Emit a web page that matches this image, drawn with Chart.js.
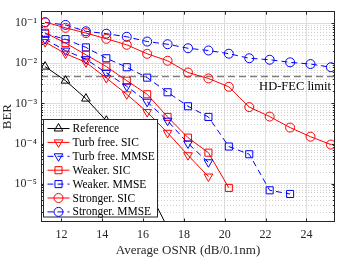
<!DOCTYPE html>
<html>
<head>
<meta charset="utf-8">
<script src="https://cdn.jsdelivr.net/npm/chart.js@4"></script>
<style>
  html, body { margin: 0; padding: 0; background: #fff; }
</style>
</head>
<body>
<canvas id="berChart" width="341" height="260"></canvas>
<script>
// OSNR points (dB/0.1nm) shared by every curve
const osnr = [11.2, 12.2, 13.2, 14.2, 15.2, 16.2, 17.2, 18.2, 19.2, 20.2, 21.2, 22.2, 23.2, 24.2, 25.2];

// BER values
const reference = [8.3e-3, 3.7e-3, 1.32e-3, 3.7e-4, 6.3e-5, 8e-6, 8e-7];
const turbFreeSic = [0.034, 0.0174, 0.0106, 4.3e-3, 1.69e-3, 6.1e-4, 1.85e-4, 5.1e-5, 1.5e-5];
const turbFreeMmse = [0.040, 0.0208, 0.0127, 5.8e-3, 2.67e-3, 1.1e-3, 3.7e-4, 1.0e-4, 3.4e-5];
const weakerSic = [0.058, 0.032, 0.0164, 8.3e-3, 3.7e-3, 1.69e-3, 4.6e-4, 1.4e-4, 5.9e-5, 7.8e-6];
const weakerMmse = [0.055, 0.040, 0.025, 0.0134, 8.0e-3, 4.4e-3, 1.9e-3, 8.5e-4, 4.6e-4, 8.4e-5, 5.4e-5, 6.8e-6, 5.5e-6];
const strongerSic = [0.107, 0.077, 0.057, 0.041, 0.029, 0.0173, 0.0116, 5.9e-3, 4.2e-3, 2.6e-3, 8.1e-4, 4.7e-4, 2.5e-4, 1.48e-4, 9.4e-5];
const strongerMmse = [0.105, 0.091, 0.063, 0.055, 0.046, 0.035, 0.030, 0.0238, 0.0209, 0.0174, 0.0134, 0.0123, 0.0106, 0.0096, 0.0080];

const seriesNames = ["Reference", "Turb free. SIC", "Turb free. MMSE", "Weaker. SIC", "Weaker. MMSE", "Stronger. SIC", "Stronger. MMSE"];

const hdFecLimit = 4.7e-3;
const xTicks = [12, 14, 16, 18, 20, 22, 24];
const yTicks = [1e-5, 1e-4, 1e-3, 1e-2, 1e-1];
const xRange = [11, 25.4];
const yRange = [1.1e-6, 0.2];

const FONT = "'Liberation Serif', 'Times New Roman', 'DejaVu Serif', serif";
const AXIS_COLOR = "#262626";
const GRID_COLOR = "#dedede";

// Pair each BER value with its OSNR point
const toPoints = (values) => values.map((v, i) => ({ x: osnr[i], y: v }));

const superDigits = { "-": "\u207B", "0": "\u2070", "1": "\u00B9", "2": "\u00B2", "3": "\u00B3",
  "4": "\u2074", "5": "\u2075", "6": "\u2076", "7": "\u2077", "8": "\u2078", "9": "\u2079" };
const powerLabel = (v) => {
  const exp = String(Math.round(Math.log10(v)));
  return "10" + exp.split("").map((c) => superDigits[c]).join("");
};

// Make a curve dataset
function curve(label, values, color, style, rotation, dashed) {
  return {
    label,
    data: toPoints(values),
    borderColor: color,
    backgroundColor: "rgba(0,0,0,0)",
    borderWidth: 1,
    borderDash: dashed ? [6, 4] : [],
    pointStyle: style,
    pointRotation: rotation,
    pointRadius: style === "circle" ? 4.5 : 5,
    pointBorderWidth: 1,
    pointBorderColor: color,
    pointBackgroundColor: "rgba(0,0,0,0)",
    tension: 0,
    order: 1,
  };
}

// Dotted minor grid, inward ticks and the closing box
const framePlugin = {
  id: "frame",
  beforeDatasetsDraw(chart) {
    const { ctx, chartArea: a, scales } = chart;
    const y = scales.y;
    const x = scales.x;
    ctx.save();
    ctx.strokeStyle = "#cfcfcf";
    ctx.lineWidth = 1;
    ctx.setLineDash([1, 2]);
    for (let d = -6; d <= -1; d++) {
      for (let k = 2; k <= 9; k++) {
        const v = k * Math.pow(10, d);
        if (v > yRange[1] || v < yRange[0]) continue;
        const py = Math.round(y.getPixelForValue(v)) + 0.5;
        ctx.beginPath();
        ctx.moveTo(a.left, py);
        ctx.lineTo(a.right, py);
        ctx.stroke();
      }
    }
    ctx.setLineDash([]);
    ctx.strokeStyle = AXIS_COLOR;
    // minor ticks on left/right
    for (let d = -6; d <= -1; d++) {
      for (let k = 2; k <= 9; k++) {
        const v = k * Math.pow(10, d);
        if (v > yRange[1] || v < yRange[0]) continue;
        const py = Math.round(y.getPixelForValue(v)) + 0.5;
        ctx.beginPath();
        ctx.moveTo(a.left, py); ctx.lineTo(a.left + 2, py);
        ctx.moveTo(a.right, py); ctx.lineTo(a.right - 2, py);
        ctx.stroke();
      }
    }
    yTicks.forEach((v) => {
      const py = Math.round(y.getPixelForValue(v)) + 0.5;
      ctx.beginPath();
      ctx.moveTo(a.left, py); ctx.lineTo(a.left + 3.5, py);
      ctx.moveTo(a.right, py); ctx.lineTo(a.right - 3.5, py);
      ctx.stroke();
    });
    xTicks.forEach((v) => {
      const px = Math.round(x.getPixelForValue(v)) + 0.5;
      ctx.beginPath();
      ctx.moveTo(px, a.bottom); ctx.lineTo(px, a.bottom - 3.5);
      ctx.moveTo(px, a.top); ctx.lineTo(px, a.top + 3.5);
      ctx.stroke();
    });
    ctx.restore();
  },
  afterDatasetsDraw(chart) {
    const { ctx, chartArea: a, scales } = chart;
    ctx.save();
    ctx.strokeStyle = AXIS_COLOR;
    ctx.lineWidth = 1;
    ctx.strokeRect(Math.round(a.left) + 0.5, Math.round(a.top) + 0.5,
      Math.round(a.right - a.left) - 1, Math.round(a.bottom - a.top) - 1);

    // HD-FEC label
    ctx.fillStyle = "#000";
    ctx.font = "12.5px " + FONT;
    ctx.textAlign = "right";
    ctx.textBaseline = "middle";
    ctx.fillText("HD-FEC limit", a.right - 4, scales.y.getPixelForValue(hdFecLimit) + 10);
    ctx.restore();
  },
};

// Legend box in the lower left corner, MATLAB style
const legendPlugin = {
  id: "boxLegend",
  afterDraw(chart) {
    const { ctx, chartArea: a } = chart;
    const left = a.left + 2.5, top = 119.5, w = 114, h = 97.5;
    ctx.save();
    ctx.fillStyle = "#fff";
    ctx.fillRect(left, top, w, h);
    ctx.strokeStyle = AXIS_COLOR;
    ctx.lineWidth = 1;
    ctx.strokeRect(left, top, w, h);
    ctx.font = "11.5px " + FONT;
    ctx.textBaseline = "middle";
    ctx.textAlign = "left";
    chart.data.datasets.slice(0, seriesNames.length).forEach((ds, i) => {
      const cy = top + 9 + i * 13.9;
      ctx.strokeStyle = ds.borderColor;
      ctx.setLineDash(ds.borderDash);
      ctx.beginPath();
      ctx.moveTo(left + 4, cy);
      ctx.lineTo(left + 26, cy);
      ctx.stroke();
      ctx.setLineDash([]);
      ctx.fillStyle = "rgba(0,0,0,0)";
      Chart.helpers.drawPoint(ctx, {
        pointStyle: ds.pointStyle,
        rotation: ds.pointRotation,
        radius: ds.pointRadius,
        borderWidth: 1,
      }, left + 15, cy);
      ctx.fillStyle = "#000";
      ctx.fillText(ds.label, left + 29, cy + 0.5);
    });
    ctx.restore();
  },
};

const datasets = [
  curve(seriesNames[0], reference, "#000000", "triangle", 0, false),
  curve(seriesNames[1], turbFreeSic, "#ff0000", "triangle", 180, false),
  curve(seriesNames[2], turbFreeMmse, "#0000ff", "triangle", 180, true),
  curve(seriesNames[3], weakerSic, "#ff0000", "rect", 0, false),
  curve(seriesNames[4], weakerMmse, "#0000ff", "rect", 0, true),
  curve(seriesNames[5], strongerSic, "#ff0000", "circle", 0, false),
  curve(seriesNames[6], strongerMmse, "#0000ff", "circle", 0, true),
  {
    label: "HD-FEC limit",
    data: [{ x: xRange[0], y: hdFecLimit }, { x: xRange[1], y: hdFecLimit }],
    borderColor: "#7f7f7f",
    borderWidth: 1.5,
    borderDash: [7, 4],
    pointRadius: 0,
    order: 10,
  },
];

new Chart(document.getElementById("berChart"), {
  type: "line",
  data: { datasets },
  plugins: [framePlugin, legendPlugin],
  options: {
    responsive: false,
    animation: false,
    layout: { padding: { top: 1, right: 4, left: 0, bottom: 0 } },
    plugins: { legend: { display: false }, tooltip: { enabled: false } },
    scales: {
      x: {
        type: "linear",
        min: xRange[0],
        max: xRange[1],
        afterBuildTicks: (s) => { s.ticks = xTicks.map((v) => ({ value: v })); },
        afterFit: (s) => { s.height = 38; },
        grid: { color: GRID_COLOR, drawTicks: false },
        border: { display: false },
        ticks: { color: AXIS_COLOR, font: { family: FONT, size: 12 }, padding: 6, maxRotation: 0 },
        title: { display: true, text: "Average OSNR (dB/0.1nm)", color: AXIS_COLOR,
          font: { family: FONT, size: 13 }, padding: { top: 2, bottom: 2 } },
      },
      y: {
        type: "logarithmic",
        min: yRange[0],
        max: yRange[1],
        afterBuildTicks: (s) => { s.ticks = yTicks.map((v) => ({ value: v })); },
        afterFit: (s) => { s.width = 41; },
        grid: { color: GRID_COLOR, drawTicks: false },
        border: { display: false },
        ticks: { color: AXIS_COLOR, font: { family: FONT, size: 12 }, padding: 4,
          callback: (v) => powerLabel(v) },
        title: { display: true, text: "BER", color: AXIS_COLOR,
          font: { family: FONT, size: 13 }, padding: { top: 0, bottom: 0 } },
      },
    },
  },
});
</script>
</body>
</html>
